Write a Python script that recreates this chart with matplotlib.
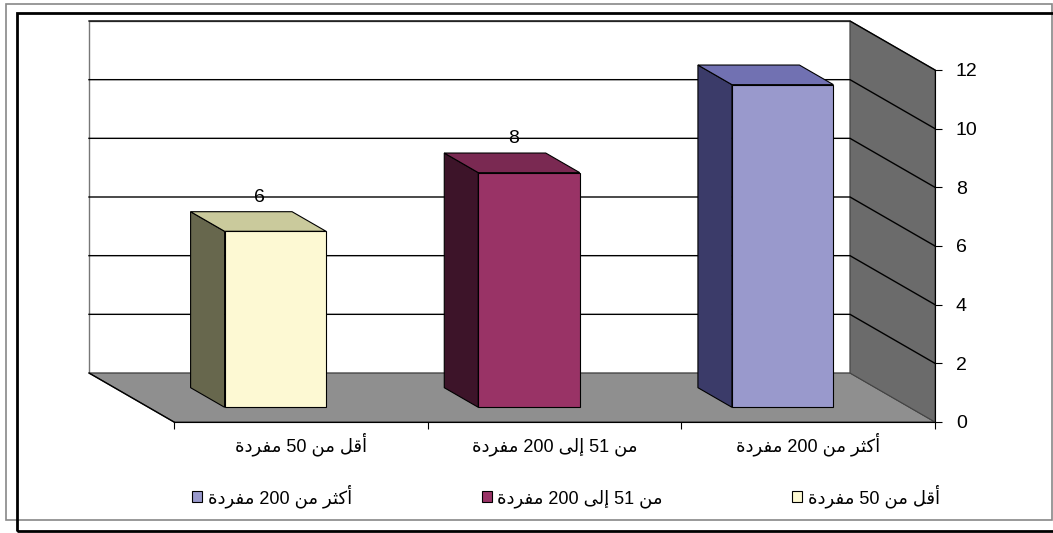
import matplotlib
matplotlib.use("Agg")
import matplotlib.pyplot as plt
import numpy as np
from matplotlib.patches import Polygon, Patch, Rectangle

plt.rcParams["font.family"] = ["Liberation Sans", "DejaVu Sans"]

# data
categories = ["أقل من 50 مفردة", "من 51 إلى 200 مفردة", "أكثر من 200 مفردة"]
values = [6, 8, 11]
yticks = [0, 2, 4, 6, 8, 10, 12]

front_colors = ["#FDF9D3", "#993366", "#9999CC"]
side_colors = ["#67674D", "#3D1429", "#3B3B69"]
top_colors = ["#CACA9C", "#7A2952", "#7171B2"]

# simple arabic shaping (presentation forms) since matplotlib does no RTL shaping
FORMS = {
    "أ": (0xFE83, 2), "إ": (0xFE87, 2), "ة": (0xFE93, 2), "د": (0xFEA9, 2),
    "ر": (0xFEAD, 2), "ى": (0xFEEF, 2),
    "ث": (0xFE99, 4), "ف": (0xFED1, 4), "ق": (0xFED5, 4), "ك": (0xFED9, 4),
    "ل": (0xFEDD, 4), "م": (0xFEE1, 4), "ن": (0xFEE5, 4),
}


def shape_word(word):
    out = []
    for i, ch in enumerate(word):
        base, n = FORMS[ch]
        joins_prev = i > 0 and FORMS[word[i - 1]][1] == 4
        joins_next = n == 4 and i + 1 < len(word)
        if joins_prev and joins_next:
            off = 3
        elif joins_prev:
            off = 1
        elif joins_next:
            off = 2
        else:
            off = 0
        out.append(chr(base + off))
    return "".join(reversed(out))


def ar(text):
    words = [shape_word(w) if w[0] in FORMS else w for w in text.split(" ")]
    return " ".join(reversed(words))


W, H = 1053, 533
fig = plt.figure(figsize=(W / 100, H / 100), dpi=100)
ax = fig.add_axes([174 / W, 1 - 422 / H, 761 / W, 352 / H])
ax.set_xlim(0, 3)
ax.set_ylim(0, 12)

# oblique depth offset in data units
DX = 85 / (761 / 3)
DY = 49 / (352 / 12)


def P(x, y, d):
    return (x - d * DX, y + d * DY)


ymax = yticks[-1]
n = len(categories)

# back wall, floor, side wall
ax.add_patch(Polygon([P(0, 0, 1), P(n, 0, 1), P(n, ymax, 1), P(0, ymax, 1)],
                     closed=True, fc="white", ec="#777777", lw=1, clip_on=False, zorder=1))
ax.add_patch(Polygon([P(0, 0, 0), P(n, 0, 0), P(n, 0, 1), P(0, 0, 1)],
                     closed=True, fc="#8F8F8F", ec="#333333", lw=0.8, clip_on=False, zorder=2))
ax.add_patch(Polygon([P(n, 0, 0), P(n, ymax, 0), P(n, ymax, 1), P(n, 0, 1)],
                     closed=True, fc="#6B6B6B", ec="#444444", lw=0.8, clip_on=False, zorder=2))

# gridlines on back wall and side wall
for t in yticks[1:]:
    xs, ys = zip(P(0, t, 1), P(n, t, 1), P(n, t, 0))
    ax.plot(xs, ys, color="black", lw=1, clip_on=False, zorder=3)
xs, ys = zip(P(0, 0, 1), P(0, 0, 0))
ax.plot(xs, ys, color="black", lw=1, clip_on=False, zorder=3)

# bars
w = 0.4
d0, d1 = 0.3, 0.7
x = np.arange(n) + 0.5
for i, (c, v) in enumerate(zip(x, values)):
    l, r = c - w / 2, c + w / 2
    ax.add_patch(Polygon([P(l, 0, d0), P(l, 0, d1), P(l, v, d1), P(l, v, d0)],
                         fc=side_colors[i], ec="black", lw=0.8, clip_on=False, zorder=4))
    ax.add_patch(Polygon([P(l, v, d0), P(r, v, d0), P(r, v, d1), P(l, v, d1)],
                         fc=top_colors[i], ec="black", lw=0.8, clip_on=False, zorder=4))
    ax.add_patch(Polygon([P(l, 0, d0), P(r, 0, d0), P(r, v, d0), P(l, v, d0)],
                         fc=front_colors[i], ec="black", lw=0.8, clip_on=False, zorder=5))
    ax.annotate(str(v), (P(c, v, 0.5)[0], P(c, v, d1)[1]), xytext=(1, 4),
                textcoords="offset points", ha="center", va="bottom", fontsize=14, zorder=6)

# axes
for s in ["left", "top"]:
    ax.spines[s].set_visible(False)
ax.spines["bottom"].set_zorder(7)
ax.spines["right"].set_zorder(7)
ax.yaxis.tick_right()
ax.set_yticks(yticks)
ax.tick_params(axis="y", direction="out", length=5, pad=10, labelsize=14)
ax.set_xticks(range(n + 1))
ax.set_xticklabels([])
ax.set_xticks(x, [ar(c) for c in categories], minor=True)
ax.tick_params(axis="x", which="major", direction="out", length=5)
ax.tick_params(axis="x", which="minor", length=0, pad=21, labelsize=13)
for lab in ax.get_xticklabels(minor=True):
    lab.set_verticalalignment("baseline")

# legend (right-to-left order)
handles = [Patch(fc=front_colors[i], ec="black", lw=0.8, label=ar(categories[i]))
           for i in range(n - 1, -1, -1)]
fig.legend(handles=handles, loc="center", bbox_to_anchor=(566 / W, 1 - 496 / H),
           ncol=3, frameon=False, fontsize=13, handlelength=0.55, handleheight=0.55,
           handletextpad=0.3, columnspacing=7.2)

# chart frames
fig.add_artist(Rectangle((6 / W, 1 - 520 / H), 1046 / W, 516 / H, transform=fig.transFigure,
                         fill=False, ec="#888888", lw=1.2))
fig.add_artist(Rectangle((17 / W, 1 - 531 / H), 1050 / W, 518 / H, transform=fig.transFigure,
                         fill=False, ec="black", lw=2))

fig.savefig("out.png", dpi=100)
